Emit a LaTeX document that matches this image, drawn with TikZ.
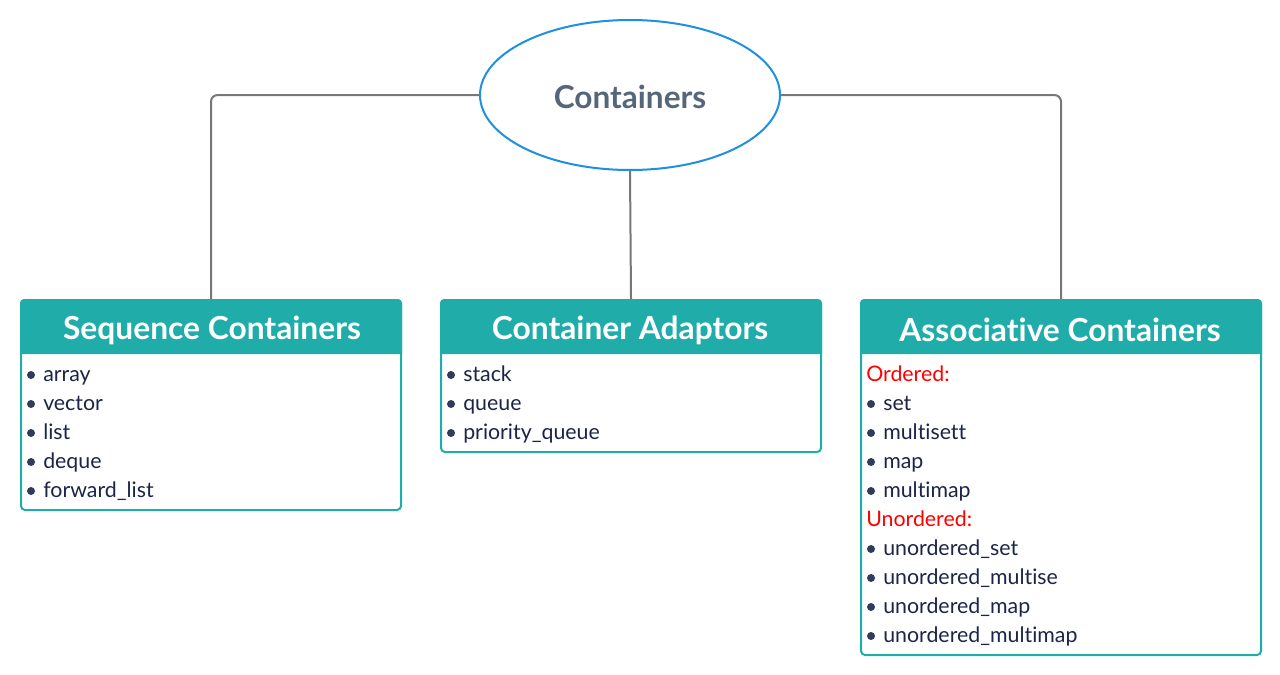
\documentclass[tikz,border=0pt]{standalone}
\usepackage{fontspec}
\setmainfont[Ligatures=NoCommon]{Lato}
\usetikzlibrary{shapes.geometric}
\definecolor{tealh}{HTML}{20ADAA}
\definecolor{navy}{HTML}{1C2548}
\definecolor{bul}{HTML}{2F3C5C}
\definecolor{rootblue}{HTML}{1F8FE0}
\definecolor{roottext}{HTML}{56667A}
\definecolor{conn}{HTML}{777777}
\definecolor{redt}{HTML}{FF0000}
\tikzset{
  box/.style={draw=tealh, line width=1.5pt, rounded corners=3pt, anchor=north west, inner sep=0pt, fill=white},
  head/.style={text=white, font=\fontsize{23.8}{27}\bfseries\selectfont, inner sep=0pt},
  item/.style={anchor=base west, inner sep=0pt, text=navy, font=\fontsize{16}{19}\selectfont},
  redlab/.style={anchor=base west, inner sep=0pt, text=redt, font=\fontsize{16}{19}\selectfont},
  dot/.style={circle, fill=bul, inner sep=0pt, minimum size=6pt},
  connector/.style={draw=conn, line width=1.5pt, rounded corners=5pt},
}
\begin{document}
\begin{tikzpicture}[x=0.75pt,y=-0.75pt]
\useasboundingbox (0,0) rectangle (1280,674);
% root
\node[ellipse, draw=rootblue, line width=1.5pt, minimum width=225pt, minimum height=112.5pt, inner sep=0pt] (root) at (630,95) {};
\node[text=roottext, font=\fontsize{23.7}{27}\bfseries\selectfont, inner sep=0pt] (roottxt) at (630,97) {Containers};
% boxes
\node[box, minimum width=285pt, minimum height=157.5pt] (seq) at (20,299) {};
\node[box, minimum width=285pt, minimum height=114pt] (adapt) at (440,299) {};
\node[box, minimum width=300pt, minimum height=266.25pt] (assoc) at (860,299) {};
% headers
\foreach \b in {seq,adapt,assoc}{
  \fill[tealh] ([yshift=-41.25pt]\b.north west) [rounded corners=3pt] -- (\b.north west) -- (\b.north east) [sharp corners] -- ([yshift=-41.25pt]\b.north east) -- cycle;
}
\node[head] (seqh) at (212,330) {Sequence Containers};
\node[head] (adapth) at (630,330) {Container Adaptors};
\node[head] (assoch) at (1060,330) {Associative Containers};
% connectors
\draw[connector] (root.west) -| (seq.north);
\draw[connector] (root.east) -| (assoc.north);
\draw[connector] (root.south) -- (adapt.north);
% sequence items
\foreach \t [count=\i from 0] in {array,vector,list,deque,forward\_list}{
  \node[dot] (sd\i) at (31,375+29*\i) {};
  \node[item] (si\i) at (43,381+29*\i) {\t};
}
% adaptor items
\foreach \t [count=\i from 0] in {stack,queue,priority\_queue}{
  \node[dot] (ad\i) at (451,375+29*\i) {};
  \node[item] (ai\i) at (463,381+29*\i) {\t};
}
% associative
\node[redlab] (ord) at (866,381) {Ordered:};
\foreach \t [count=\i from 1] in {set,multisett,map,multimap}{
  \node[dot] (od\i) at (871,375+29*\i) {};
  \node[item] (oi\i) at (883,381+29*\i) {\t};
}
\node[redlab] (unord) at (866,526) {Unordered:};
\foreach \t [count=\i from 6] in {unordered\_set,unordered\_multise,unordered\_map,unordered\_multimap}{
  \node[dot] (ud\i) at (871,375+29*\i) {};
  \node[item] (ui\i) at (883,381+29*\i) {\t};
}
\end{tikzpicture}
\end{document}
